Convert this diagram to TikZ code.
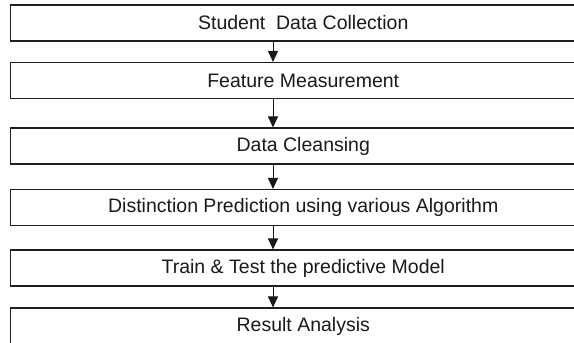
\documentclass[tikz,border=0pt]{standalone}
\usepackage{fontspec}
\setmainfont{Liberation Sans}
\usetikzlibrary{arrows.meta}
\begin{document}
\begin{tikzpicture}[x=1pt,y=-1pt,
  stepbox/.style={draw=black!88, line width=1.1pt, rectangle, minimum width=585.5pt, minimum height=36pt, inner sep=0pt,
    font=\fontsize{19.5}{23}\selectfont, text=black!90},
  flow/.style={draw=black!90, line width=1pt, -{Triangle[length=11pt,width=10pt]}}]
\useasboundingbox (0,0) rectangle (574,343);
\clip (0,0) rectangle (574,343);
\node[stepbox] (b1) at (303.25,23) {Student\ \ Data Collection};
\node[stepbox] (b2) at (303.25,80.5) {Feature Measurement};
\node[stepbox] (b3) at (303.25,146) {Data Cleansing};
\node[stepbox] (b4) at (303.25,207.5) {Distinction Prediction using various Algorithm};
\node[stepbox] (b5) at (303.25,268) {Train \& Test the predictive Model};
\node[stepbox] (b6) at (303.25,326) {Result Analysis};
\foreach \a/\b in {b1/b2,b2/b3,b3/b4,b4/b5,b5/b6}{
  \draw[flow] (\a.south -| 273,0) -- (\b.north -| 273,0);
}
\end{tikzpicture}
\end{document}
